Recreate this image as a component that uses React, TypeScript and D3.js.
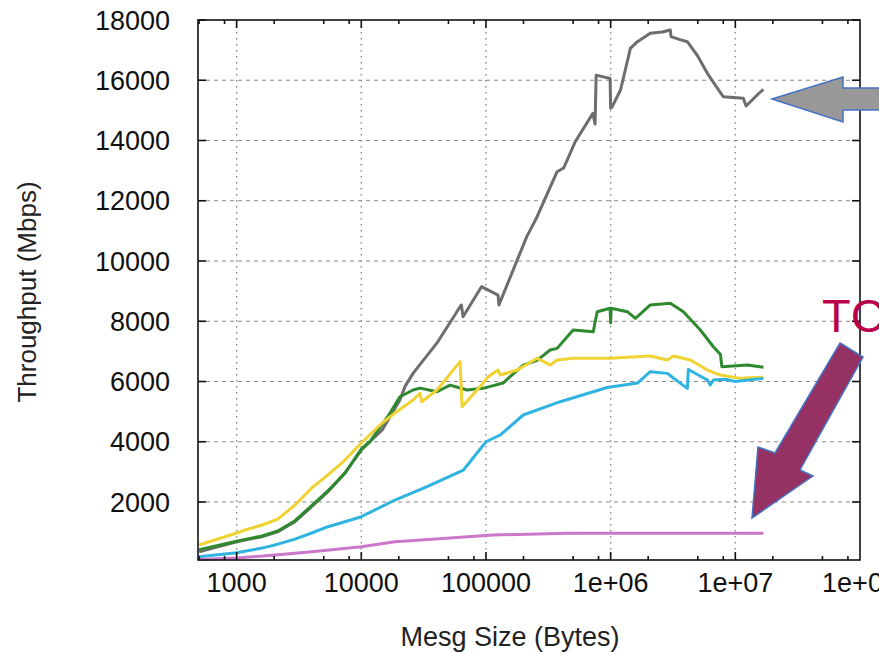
import { useEffect, useRef } from "react";
import * as d3 from "d3";

const width = 879;
const height = 653;

const PLOT = { left: 198, right: 860, top: 20, bottom: 560 };

// x values (message size, bytes) and throughput (Mbps)
const graySizes = [500, 1000, 1170, 1600, 2140, 2940, 4000, 5400, 7400, 10000, 14700, 17000, 20400, 22400, 26000, 40500, 62000, 63500, 65500, 92000, 125000, 127000, 178000, 212000, 257000, 372000, 420000, 520000, 720000, 750000, 765000, 990000, 1000000, 1030000, 1200000, 1440000, 1640000, 2080000, 2600000, 3010000, 3050000, 3600000, 4120000, 5000000, 5970000, 7000000, 8000000, 11600000, 12200000, 15400000, 16800000];
const grayTput = [350, 682, 740, 850, 1014, 1346, 1844, 2342, 2963, 3725, 4390, 4830, 5386, 5830, 6270, 7280, 8483, 8540, 8150, 9147, 8870, 8540, 10030, 10800, 11470, 12964, 13087, 13960, 14900, 14550, 16170, 16060, 15070, 15124, 15676, 17060, 17280, 17557, 17600, 17668, 17446, 17350, 17280, 16800, 16230, 15800, 15454, 15400, 15145, 15560, 15700];

const greenSizes = [500, 1000, 1170, 1600, 2140, 2940, 4000, 5400, 7400, 10000, 11700, 17000, 20400, 26000, 29600, 40500, 51500, 70500, 94800, 137000, 199000, 257000, 327000, 372000, 500000, 725000, 780000, 990000, 1000000, 1010000, 1360000, 1580000, 2080000, 3010000, 3830000, 5240000, 6670000, 7600000, 7800000, 12500000, 16800000];
const greenTput = [420, 700, 760, 870, 1040, 1380, 1880, 2370, 2960, 3760, 4000, 4950, 5495, 5717, 5780, 5660, 5880, 5720, 5773, 5950, 6546, 6700, 7046, 7100, 7710, 7653, 8317, 8430, 7940, 8430, 8317, 8096, 8540, 8600, 8317, 7710, 7155, 6900, 6490, 6550, 6470];

const yellowSizes = [500, 1000, 1170, 1600, 2140, 2940, 4000, 5400, 7400, 10000, 14700, 18600, 26000, 29600, 30500, 40500, 62000, 64300, 94800, 104000, 125000, 130000, 178000, 257000, 327000, 372000, 500000, 1000000, 2080000, 2850000, 3180000, 4360000, 5970000, 7600000, 11000000, 16800000];
const yellowTput = [573, 971, 1070, 1236, 1430, 1900, 2466, 2900, 3394, 3958, 4622, 4954, 5386, 5608, 5330, 5717, 6660, 5165, 5940, 6160, 6380, 6215, 6380, 6770, 6550, 6713, 6770, 6770, 6846, 6713, 6846, 6713, 6380, 6215, 6104, 6140];

const cyanSizes = [500, 1000, 1600, 2140, 2940, 4000, 5400, 7400, 10000, 18600, 33700, 62000, 66000, 100000, 130000, 199000, 394000, 938000, 1640000, 2080000, 2850000, 3180000, 4120000, 4200000, 5970000, 6300000, 6670000, 8300000, 10000000, 16800000];
const cyanTput = [180, 315, 470, 600, 770, 971, 1180, 1346, 1512, 2066, 2508, 3006, 3062, 4000, 4224, 4888, 5330, 5800, 5950, 6325, 6270, 6115, 5773, 6400, 6050, 5884, 6050, 6074, 6000, 6104];

const pinkSizes = [500, 1000, 2140, 4020, 10000, 18600, 45300, 114000, 448000, 16800000];
const pinkTput = [90, 140, 250, 350, 515, 680, 790, 905, 960, 960];

const series = [
  { name: "gray", color: "#6d6d6d", sizes: graySizes, values: grayTput },
  { name: "green", color: "#2f8a2f", sizes: greenSizes, values: greenTput },
  { name: "yellow", color: "#f0d232", sizes: yellowSizes, values: yellowTput },
  { name: "cyan", color: "#2fb3e0", sizes: cyanSizes, values: cyanTput },
  { name: "pink", color: "#cc77cc", sizes: pinkSizes, values: pinkTput },
];

const xTicks = [1000, 10000, 100000, 1000000, 10000000, 100000000];
const xTickLabels = ["1000", "10000", "100000", "1e+06", "1e+07", "1e+08"];
const yTicks = [2000, 4000, 6000, 8000, 10000, 12000, 14000, 16000, 18000];

const FONT = "'Liberation Sans', Arial, sans-serif";

function App() {
  const svgRef = useRef(null);

  useEffect(() => {
    const svg = d3.select(svgRef.current);
    svg.selectAll("*").remove();

    const x = d3.scaleLog().domain([490, 1e8]).range([PLOT.left, PLOT.right]);
    const y = d3.scaleLinear().domain([75, 18000]).range([PLOT.bottom, PLOT.top]);

    const minor: number[] = [];
    for (let e = 2; e < 8; e++) {
      [2, 5, 8].forEach(m => {
        const v = m * Math.pow(10, e);
        if (v > 490 && v < 1e8) minor.push(v);
      });
    }

    // grid
    const grid = svg.append("g");
    grid.selectAll("line.h")
      .data(yTicks.slice(0, -1))
      .join("line")
      .attr("x1", PLOT.left).attr("x2", PLOT.right)
      .attr("y1", d => y(d)).attr("y2", d => y(d))
      .attr("stroke", "#8a8a8a").attr("stroke-width", 1.2)
      .attr("stroke-dasharray", "4,4");
    grid.selectAll("line.v")
      .data(xTicks.slice(0, -1))
      .join("line")
      .attr("x1", d => x(d)).attr("x2", d => x(d))
      .attr("y1", PLOT.top).attr("y2", PLOT.bottom)
      .attr("stroke", "#8a8a8a").attr("stroke-width", 1.4)
      .attr("stroke-dasharray", "1.5,4.5");

    // lines
    const line = d3.line<[number, number]>()
      .x(d => x(d[0]))
      .y(d => y(d[1]));

    series.forEach(s => {
      const pts = s.sizes.map((v, i) => [v, s.values[i]] as [number, number]);
      svg.append("path")
        .datum(pts)
        .attr("fill", "none")
        .attr("stroke", s.color)
        .attr("stroke-width", 3)
        .attr("stroke-linejoin", "round")
        .attr("d", line);
    });

    // frame
    svg.append("rect")
      .attr("x", PLOT.left).attr("y", PLOT.top)
      .attr("width", PLOT.right - PLOT.left).attr("height", PLOT.bottom - PLOT.top)
      .attr("fill", "none").attr("stroke", "#111").attr("stroke-width", 1.6);

    // ticks (inward, on all four sides)
    const ticks = svg.append("g").attr("stroke", "#111").attr("stroke-width", 1.6);
    xTicks.slice(0, -1).forEach(d => {
      ticks.append("line").attr("x1", x(d)).attr("x2", x(d)).attr("y1", PLOT.bottom).attr("y2", PLOT.bottom - 8);
      ticks.append("line").attr("x1", x(d)).attr("x2", x(d)).attr("y1", PLOT.top).attr("y2", PLOT.top + 8);
    });
    minor.forEach(d => {
      ticks.append("line").attr("x1", x(d)).attr("x2", x(d)).attr("y1", PLOT.bottom).attr("y2", PLOT.bottom - 4);
      ticks.append("line").attr("x1", x(d)).attr("x2", x(d)).attr("y1", PLOT.top).attr("y2", PLOT.top + 4);
    });
    yTicks.forEach(d => {
      ticks.append("line").attr("x1", PLOT.left).attr("x2", PLOT.left + 8).attr("y1", y(d)).attr("y2", y(d));
      ticks.append("line").attr("x1", PLOT.right).attr("x2", PLOT.right - 8).attr("y1", y(d)).attr("y2", y(d));
    });

    // tick labels
    svg.append("g")
      .selectAll("text")
      .data(yTicks)
      .join("text")
      .attr("x", 170)
      .attr("y", d => y(d))
      .attr("dy", "0.36em")
      .attr("text-anchor", "end")
      .attr("font-family", FONT)
      .attr("font-size", 27)
      .attr("fill", "#111")
      .text(d => String(d));

    svg.append("g")
      .selectAll("text")
      .data(xTicks)
      .join("text")
      .attr("x", d => x(d))
      .attr("y", 592)
      .attr("text-anchor", "middle")
      .attr("font-family", FONT)
      .attr("font-size", 27)
      .attr("fill", "#111")
      .text((d, i) => xTickLabels[i]);

    // axis titles
    svg.append("text")
      .attr("x", 510).attr("y", 646)
      .attr("text-anchor", "middle")
      .attr("font-family", FONT).attr("font-size", 27).attr("fill", "#222")
      .text("Mesg Size (Bytes)");

    svg.append("text")
      .attr("transform", "translate(27,292) rotate(-90)")
      .attr("dy", "0.35em")
      .attr("text-anchor", "middle")
      .attr("font-family", FONT).attr("font-size", 26).attr("fill", "#222")
      .text("Throughput (Mbps)");

    // annotations
    svg.append("polygon")
      .attr("points", "772,99 843,77 843,88 890,88 890,110 843,110 843,122")
      .attr("fill", "#989898").attr("stroke", "#4472c4").attr("stroke-width", 1.5);

    svg.append("text")
      .attr("x", 822).attr("y", 332)
      .attr("font-family", FONT).attr("font-size", 47).attr("fill", "#b8004c")
      .text("TC");

    svg.append("polygon")
      .attr("points", "840,343 863,357 800,470 813,476 752,518 758,447 775,453")
      .attr("fill", "#953163").attr("stroke", "#4472c4").attr("stroke-width", 1.5);
  }, []);

  return (
    <div style={{ position: "absolute", left: 0, top: 0 }}>
      <svg width={width} height={height} ref={svgRef} style={{ display: "block", background: "#fff" }}></svg>
    </div>
  );
}

export default App;
